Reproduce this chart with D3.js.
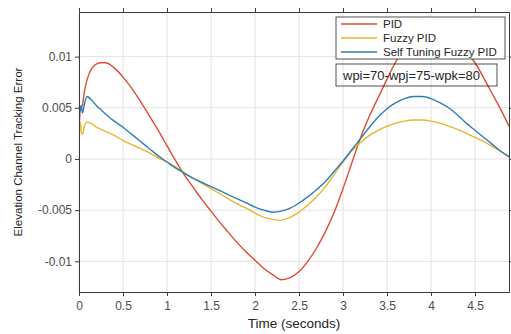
<!DOCTYPE html>
<html>
<head>
<meta charset="utf-8">
<script src="https://cdn.jsdelivr.net/npm/d3@7"></script>
<style>
  html, body { margin: 0; padding: 0; background: #fff; }
  svg { display: block; font-family: "Liberation Sans", Arial, sans-serif; }
</style>
</head>
<body>
<svg id="chart" width="511" height="334"></svg>
<script>
// time samples (seconds)
const time = [0, 0.005, 0.015, 0.025, 0.04, 0.06, 0.09, 0.15, 0.2, 0.25, 0.3, 0.4, 0.5, 0.6, 0.7, 0.8, 0.9,
  1.0, 1.1, 1.2, 1.3, 1.4, 1.5, 1.6, 1.7, 1.8, 1.9, 2.0, 2.1, 2.2, 2.3, 2.4, 2.5, 2.6, 2.7, 2.8, 2.9,
  3.0, 3.1, 3.2, 3.3, 3.4, 3.5, 3.6, 3.7, 3.8, 3.9, 4.0, 4.1, 4.2, 4.3, 4.4, 4.5, 4.6, 4.7, 4.8, 4.886]

const pid = [0, 0.0035, 0.0048, 0.0050, 0.0053, 0.0065, 0.0077, 0.0089, 0.0093, 0.0094, 0.0094, 0.0089, 0.0080, 0.0069, 0.0056, 0.0042, 0.0028,
  0.0013, -0.0002, -0.0016, -0.0028, -0.0040, -0.0051, -0.0062, -0.0072, -0.0082, -0.0091, -0.0099, -0.0107, -0.0113, -0.0118, -0.0116, -0.0110, -0.0100, -0.0087, -0.0071, -0.0052,
  -0.0029, -0.0004, 0.0021, 0.0042, 0.0060, 0.0078, 0.0095, 0.0108, 0.0117, 0.0123, 0.0125, 0.0124, 0.0120, 0.0113, 0.0104, 0.0094, 0.0079, 0.0063, 0.0047, 0.0032]

const fuzzyPid = [0, 0.0030, 0.0036, 0.0026, 0.0024, 0.0032, 0.0036, 0.0034, 0.0031, 0.0029, 0.0027, 0.0023, 0.0018, 0.0014, 0.0010, 0.0006, 0.0001,
  -0.0003, -0.0008, -0.0014, -0.0019, -0.0024, -0.0029, -0.0034, -0.0039, -0.0044, -0.0048, -0.0053, -0.0057, -0.0059, -0.0060, -0.0057, -0.0052, -0.0045, -0.0037, -0.0027, -0.0015,
  -0.0003, 0.0008, 0.0016, 0.0023, 0.0028, 0.0032, 0.0035, 0.0037, 0.0038, 0.0038, 0.0037, 0.0035, 0.0032, 0.0029, 0.0025, 0.0021, 0.0017, 0.0012, 0.0007, 0.0003]

const selfTuning = [0, 0.0053, 0.0047, 0.0052, 0.0045, 0.0053, 0.0061, 0.0057, 0.0052, 0.0048, 0.0044, 0.0037, 0.0031, 0.0024, 0.0017, 0.0010, 0.0003,
  -0.0003, -0.0009, -0.0014, -0.0019, -0.0023, -0.0027, -0.0031, -0.0035, -0.0039, -0.0043, -0.0047, -0.0050, -0.0052, -0.0051, -0.0048, -0.0043, -0.0037, -0.0030, -0.0022, -0.0012,
  -0.0002, 0.0009, 0.0020, 0.0031, 0.0041, 0.0049, 0.0055, 0.0059, 0.0061, 0.0061, 0.0059, 0.0055, 0.0050, 0.0043, 0.0035, 0.0028, 0.0021, 0.0014, 0.0007, 0.0002]

const seriesNames = ['PID', 'Fuzzy PID', 'Self Tuning Fuzzy PID']
const seriesColors = ['#dc4b34', '#e8b530', '#2f7db5']

const xTicks = [0, 0.5, 1, 1.5, 2, 2.5, 3, 3.5, 4, 4.5]
const xTickLabels = ['0', '0.5', '1', '1.5', '2', '2.5', '3', '3.5', '4', '4.5']
const yTicks = [-0.01, -0.005, 0, 0.005, 0.01]
const yTickLabels = ['-0.01', '-0.005', '0', '0.005', '0.01']
const annotation = 'wpi=70-wpj=75-wpk=80'

const svg = d3.select('#chart')
const margin = { left: 79, top: 12, right: 2, bottom: 42 }
const width = 511 - margin.left - margin.right
const height = 334 - margin.top - margin.bottom

const x = d3.scaleLinear().domain([0, 4.886]).range([0, width])
const y = d3.scaleLinear().domain([-0.013, 0.01436]).range([height, 0])

const g = svg.append('g').attr('transform', `translate(${margin.left},${margin.top})`)

// grid
g.append('g')
  .selectAll('line.vg')
  .data(xTicks)
  .join('line')
  .attr('x1', d => x(d)).attr('x2', d => x(d))
  .attr('y1', 0).attr('y2', height)
  .attr('stroke', '#e3e3e3').attr('stroke-width', 1)
g.append('g')
  .selectAll('line.hg')
  .data(yTicks)
  .join('line')
  .attr('x1', 0).attr('x2', width)
  .attr('y1', d => y(d)).attr('y2', d => y(d))
  .attr('stroke', '#e3e3e3').attr('stroke-width', 1)

// lines
const lineGen = d3.line()
  .x((d, i) => x(time[i]))
  .y(d => y(d))
  .curve(d3.curveMonotoneX)

g.append('defs').append('clipPath').attr('id', 'clip')
  .append('rect').attr('width', width).attr('height', height)

const lines = g.append('g').attr('clip-path', 'url(#clip)')
;[pid, fuzzyPid, selfTuning].forEach((vals, i) => {
  lines.append('path')
    .attr('d', lineGen(vals))
    .attr('fill', 'none')
    .attr('stroke', seriesColors[i])
    .attr('stroke-width', 1.4)
})

// axes
const axisColor = '#3a3a3a'
const styleAxis = sel => {
  sel.select('.domain').attr('stroke', axisColor).attr('stroke-width', 1)
  sel.selectAll('.tick line').attr('stroke', axisColor)
  sel.selectAll('.tick text').attr('fill', '#4d4d4d').style('font-size', '12px')
}

g.append('g')
  .attr('transform', `translate(0,${height})`)
  .call(d3.axisBottom(x).tickValues(xTicks).tickFormat((d, i) => xTickLabels[i]).tickSize(4).tickSizeOuter(0).tickPadding(5))
  .call(styleAxis)

g.append('g')
  .call(d3.axisTop(x).tickValues(xTicks).tickFormat('').tickSize(4).tickSizeOuter(0))
  .call(styleAxis)

g.append('g')
  .call(d3.axisLeft(y).tickValues(yTicks).tickFormat((d, i) => yTickLabels[i]).tickSize(4).tickSizeOuter(0).tickPadding(3))
  .call(styleAxis)

g.append('g')
  .attr('transform', `translate(${width},0)`)
  .call(d3.axisRight(y).tickValues(yTicks).tickFormat('').tickSize(4).tickSizeOuter(0))
  .call(styleAxis)

// axis labels
svg.append('text')
  .attr('x', margin.left + width / 2)
  .attr('y', 328)
  .attr('text-anchor', 'middle')
  .style('font-size', '13.5px')
  .attr('fill', '#262626')
  .text('Time (seconds)')

svg.append('text')
  .attr('transform', 'translate(22,152) rotate(-90)')
  .attr('text-anchor', 'middle')
  .style('font-size', '11.5px')
  .attr('fill', '#262626')
  .text('Elevation Channel Tracking Error')

// legend
const legend = svg.append('g').attr('transform', 'translate(336,17)')
legend.append('rect')
  .attr('width', 169).attr('height', 42)
  .attr('fill', '#fff').attr('stroke', '#262626').attr('stroke-width', 0.8)
seriesNames.forEach((name, i) => {
  const row = legend.append('g').attr('transform', `translate(0,${7 + i * 14})`)
  row.append('line')
    .attr('x1', 5).attr('x2', 41).attr('y1', 0).attr('y2', 0)
    .attr('stroke', seriesColors[i]).attr('stroke-width', 1.4)
  row.append('text')
    .attr('x', 47).attr('y', 4)
    .style('font-size', '11.5px')
    .attr('fill', '#262626')
    .text(name)
})

// annotation box
const ann = svg.append('g').attr('transform', 'translate(336,64)')
ann.append('rect')
  .attr('width', 161).attr('height', 22)
  .attr('fill', 'none').attr('stroke', '#262626').attr('stroke-width', 0.8)
ann.append('text')
  .attr('x', 7).attr('y', 15.5)
  .style('font-size', '13px')
  .attr('fill', '#262626')
  .text(annotation)
</script>
</body>
</html>
